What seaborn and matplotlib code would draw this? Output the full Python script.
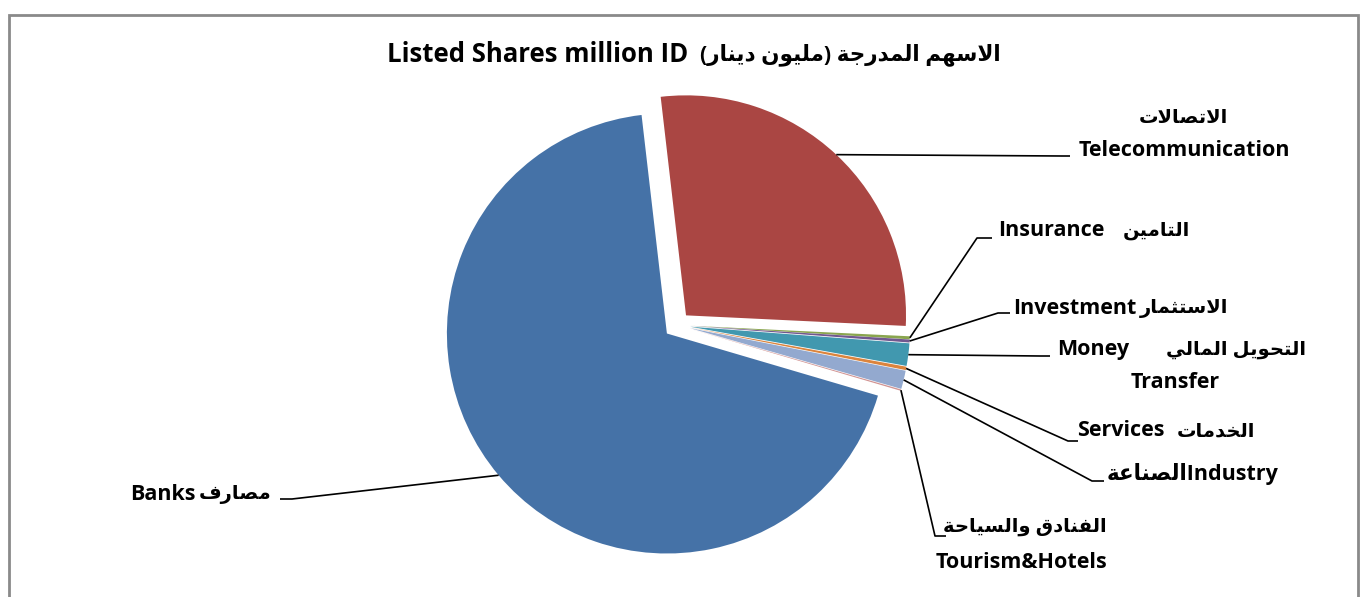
import numpy as np
import matplotlib
matplotlib.use('Agg')
import matplotlib.pyplot as plt
from matplotlib.patches import Rectangle
import seaborn as sns

# data (share of listed shares, %)
sectors_en = ['Banks', 'Telecommunication', 'Insurance', 'Investment',
              'Money Transfer', 'Services', 'Industry', 'Tourism&Hotels']
sectors_ar = ['مصارف', 'الاتصالات', 'التامين', 'الاستثمار',
              'التحويل المالي', 'الخدمات', 'الصناعة', 'الفنادق والسياحة']
shares = [68.6, 27.6, 0.22, 0.22, 1.65, 0.25, 1.35, 0.1]
title_en = 'Listed Shares million ID'
title_ar = 'الاسهم المدرجة (مليون دينار)'

colors = ['#4572A7', '#AA4643', '#89A54E', '#71588F',
          '#4198AF', '#DB843D', '#93A9CF', '#D19392']

# tiny arabic shaper (presentation forms + right-to-left order)
AR_FORMS = {
    'ا': (0xFE8D, False), 'ت': (0xFE95, True), 'ث': (0xFE99, True), 'ج': (0xFE9D, True),
    'ح': (0xFEA1, True), 'خ': (0xFEA5, True), 'د': (0xFEA9, False), 'ر': (0xFEAD, False),
    'س': (0xFEB1, True), 'ص': (0xFEB9, True), 'ع': (0xFEC9, True), 'ف': (0xFED1, True),
    'ق': (0xFED5, True), 'ل': (0xFEDD, True), 'م': (0xFEE1, True), 'ن': (0xFEE5, True),
    'ه': (0xFEE9, True), 'و': (0xFEED, False), 'ي': (0xFEF1, True), 'ة': (0xFE93, False),
}


def ar(text):
    out = []
    prev = None
    i = 0
    while i < len(text):
        ch = text[i]
        if ch not in AR_FORMS:
            out.append(ch)
            prev = None
            i += 1
            continue
        link_prev = prev is not None and AR_FORMS[prev][1]
        if ch == 'ل' and i + 1 < len(text) and text[i + 1] == 'ا':
            out.append(chr(0xFEFC if link_prev else 0xFEFB))
            prev = 'ا'
            i += 2
            continue
        base, dual = AR_FORMS[ch]
        nxt = text[i + 1] if i + 1 < len(text) else None
        link_next = dual and nxt in AR_FORMS
        if link_prev and link_next:
            code = base + 3
        elif link_prev:
            code = base + 1
        elif link_next:
            code = base + 2
        else:
            code = base
        out.append(chr(code))
        prev = ch
        i += 1
    mirror = {'(': ')', ')': '('}
    return ''.join(mirror.get(c, c) for c in reversed(out))


sns.set_theme(style='white')
plt.rcParams['font.family'] = ['Open Sans', 'DejaVu Sans']
plt.rcParams['font.weight'] = 'bold'

W, H = 1368, 597
fig = plt.figure(figsize=(W / 100, H / 100), dpi=100)
ax = fig.add_axes([0, 0, 1, 1])


def Y(y):
    return H - y


R = 220
wedges, _ = ax.pie(shares, colors=colors, center=(677, Y(325)), radius=R,
                   startangle=-16.4, counterclock=False,
                   explode=[0.06 * R] * len(shares), frame=True,
                   wedgeprops=dict(linewidth=0))
ax.set_xlim(0, W)
ax.set_ylim(0, H)
ax.set_aspect('equal')
ax.axis('off')

# chart border
ax.add_patch(Rectangle((9, Y(640)), 1349, 625, fill=False, edgecolor='#8a8a8a', lw=2))

# title: latin part then arabic part (drawn right-to-left)
ax.text(688, Y(55), title_en, ha='right', va='center',
        fontsize=18.5, fontweight='bold', color='black')
ax.text(700, Y(55), ar(title_ar), ha='left', va='center',
        fontsize=15.5, fontweight='bold', color='black')

# leader elbows (image px): elbow, end
leaders = [((292, 499), (280, 499)), ((1062, 156), (1070, 156)),
           ((977, 238), (992, 238)), ((998, 313), (1010, 313)),
           ((1040, 356), (1050, 356)), ((1068, 441), (1078, 441)),
           ((1092, 481), (1104, 481)), ((935, 536), (946, 536))]
for w, (e1, e2) in zip(wedges, leaders):
    mid = np.deg2rad((w.theta1 + w.theta2) / 2)
    cx, cy = w.center
    ax.plot([cx + w.r * np.cos(mid), e1[0], e2[0]], [cy + w.r * np.sin(mid), Y(e1[1]), Y(e2[1])],
            color='black', lw=1.2, solid_capstyle='butt')

fs_en, fs_ar = 15.5, 14


def lab(x, y, s, ha, fs=fs_en):
    ax.text(x, Y(y), s, ha=ha, va='center', fontsize=fs, fontweight='bold', color='black')


lab(130, 494, sectors_en[0], 'left')
lab(272, 494, ar(sectors_ar[0]), 'right', fs_ar)
lab(1183, 118, ar(sectors_ar[1]), 'center', fs_ar)
lab(1184, 151, sectors_en[1], 'center')
lab(998, 231, sectors_en[2], 'left')
lab(1190, 231, ar(sectors_ar[2]), 'right', fs_ar)
lab(1013, 308, sectors_en[3], 'left')
lab(1228, 308, ar(sectors_ar[3]), 'right', fs_ar)
money, transfer = sectors_en[4].split()
lab(1057, 350, money, 'left')
lab(1306, 350, ar(sectors_ar[4]), 'right', fs_ar)
lab(1175, 382, transfer, 'center')
lab(1077, 431, sectors_en[5], 'left')
lab(1255, 431, ar(sectors_ar[5]), 'right', fs_ar)
lab(1107, 474, ar(sectors_ar[6]) + sectors_en[6], 'left')
lab(1025, 527, ar(sectors_ar[7]), 'center', fs_ar)
lab(1021, 562, sectors_en[7], 'center')

fig.savefig('out.png', dpi=100)
